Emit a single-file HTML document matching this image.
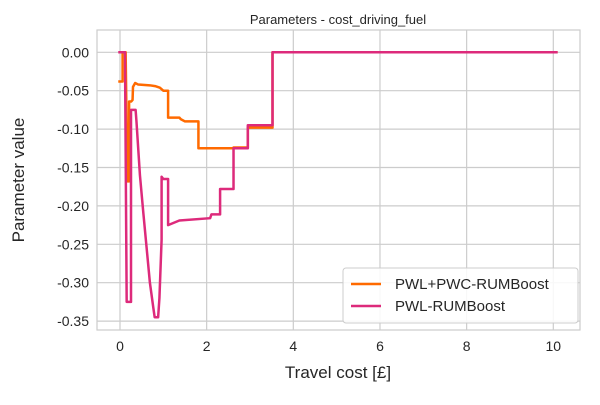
<!DOCTYPE html>
<html><head><meta charset="utf-8"><style>
body{margin:0;background:#fff;font-family:"Liberation Sans",sans-serif}
svg text{font-family:"Liberation Sans",sans-serif;fill:#262626}
</style></head><body>
<svg id="chart" width="600" height="400">
<text x="338" y="24" font-size="13" text-anchor="middle">Parameters - cost_driving_fuel</text>
<g id="grid"></g>
<rect x="97" y="30" width="483" height="300" fill="none" stroke="#cccccc" stroke-width="1.2"/>
<g id="ticks"></g>
<g id="series"></g>
<text x="338" y="378" font-size="17" text-anchor="middle">Travel cost [£]</text>
<text transform="translate(24,180) rotate(-90)" font-size="17" text-anchor="middle">Parameter value</text>
<g>
<rect x="343" y="268" width="235" height="55" rx="3" fill="#fff" fill-opacity="0.85" stroke="#cccccc"/>
<line x1="351" y1="284" x2="381" y2="284" stroke="#ff6a00" stroke-width="2.5"/>
<text x="395" y="289" font-size="15">PWL+PWC-RUMBoost</text>
<line x1="351" y1="306" x2="381" y2="306" stroke="#dd2a7b" stroke-width="2.5"/>
<text x="395" y="311" font-size="15">PWL-RUMBoost</text>
</g>
</svg>
<script>
const xTicks=[0,2,4,6,8,10];
const yTicks=[0,-0.05,-0.10,-0.15,-0.20,-0.25,-0.30,-0.35];
const orangeX=[-0.04,0.06,0.06,0.13,0.17,0.21,0.21,0.26,0.29,0.30,0.35,0.42,0.69,0.81,0.92,1.0,1.11,1.11,1.37,1.40,1.50,1.81,1.81,2.62,2.62,2.95,2.95,3.52,3.52,10.1];
const orangeY=[-0.038,-0.038,0,0,-0.168,-0.168,-0.064,-0.064,-0.062,-0.045,-0.040,-0.042,-0.043,-0.044,-0.046,-0.050,-0.050,-0.085,-0.085,-0.087,-0.090,-0.090,-0.125,-0.125,-0.124,-0.124,-0.098,-0.098,0,0];
const pinkX=[-0.04,0.115,0.154,0.254,0.254,0.27,0.36,0.38,0.46,0.54,0.69,0.77,0.80,0.88,0.91,0.96,0.96,1.0,1.11,1.11,1.37,2.08,2.11,2.31,2.31,2.62,2.62,2.95,2.95,3.52,3.52,10.1];
const pinkY=[0,0,-0.325,-0.325,-0.075,-0.075,-0.075,-0.090,-0.160,-0.210,-0.300,-0.333,-0.345,-0.345,-0.320,-0.244,-0.162,-0.165,-0.165,-0.225,-0.219,-0.216,-0.211,-0.211,-0.178,-0.178,-0.125,-0.125,-0.095,-0.095,0,0];
const sx=v=>120+v*43.33;
const sy=v=>52.3-v/0.05*38.4;
const NS='http://www.w3.org/2000/svg';
const grid=document.getElementById('grid'),ticks=document.getElementById('ticks'),ser=document.getElementById('series');
function mk(tag,attrs,parent){const e=document.createElementNS(NS,tag);for(const k in attrs)e.setAttribute(k,attrs[k]);parent.appendChild(e);return e;}
xTicks.forEach(t=>{
 const l=mk('line',{x1:sx(t),x2:sx(t),y1:30,y2:330,stroke:'#cccccc','stroke-width':1.2},grid);
 
 
 const tx=mk('text',{x:sx(t),y:351,'font-size':14,'text-anchor':'middle'},ticks);
 tx.textContent=String(t);
 
 
});
yTicks.forEach(t=>{
 const l=mk('line',{x1:97,x2:580,y1:sy(t),y2:sy(t),stroke:'#cccccc','stroke-width':1.2},grid);
 
 
 const tx=mk('text',{x:89,y:sy(t)+5,'font-size':14,'text-anchor':'end'},ticks);
 tx.textContent=t.toFixed(2);
 
 
});
function line(xs,ys,color,name){
 const p=mk('polyline',{points:xs.map((x,i)=>sx(x)+','+sy(ys[i])).join(' '),fill:'none',stroke:color,'stroke-width':2.5,'stroke-linejoin':'round'},ser);
 
 
}
line(orangeX,orangeY,'#ff6a00','series-pwl-pwc-rumboost');
line(pinkX,pinkY,'#dd2a7b','series-pwl-rumboost');
</script>
</body></html>
